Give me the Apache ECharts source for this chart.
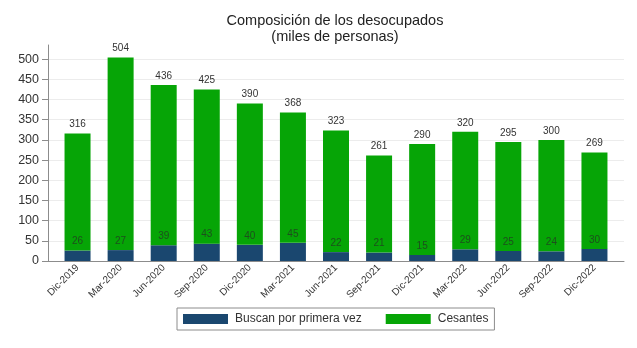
<!DOCTYPE html>
<html>
<head>
<meta charset="utf-8">
<script src="https://cdn.jsdelivr.net/npm/echarts@6/dist/echarts.min.js"></script>
<style>
  html, body { margin: 0; padding: 0; background: #fff; }
  #chart { width: 637px; height: 348px; }
</style>
</head>
<body>
<div id="chart"></div>
<script>
// Quarterly unemployed, thousands of people
const periods = ['Dic-2019', 'Mar-2020', 'Jun-2020', 'Sep-2020', 'Dic-2020', 'Mar-2021', 'Jun-2021',
                 'Sep-2021', 'Dic-2021', 'Mar-2022', 'Jun-2022', 'Sep-2022', 'Dic-2022'];
const totalDesocupados = [316, 504, 436, 425, 390, 368, 323, 261, 290, 320, 295, 300, 269];
const buscanPrimeraVez = [26, 27, 39, 43, 40, 45, 22, 21, 15, 29, 25, 24, 30];
// Cesantes are the remainder of each total
const cesantes = totalDesocupados.map((t, i) => t - buscanPrimeraVez[i]);
const yTicks = [0, 50, 100, 150, 200, 250, 300, 350, 400, 450, 500];

const Y_MAX = 535;
const FONT = '"Liberation Sans", Arial, sans-serif';
const NAVY = '#1a476f';
const GREEN = '#06a506';

const chart = echarts.init(document.getElementById('chart'), null, { renderer: 'canvas' });

chart.setOption({
  animation: false,
  backgroundColor: '#ffffff',
  textStyle: { fontFamily: FONT },
  graphic: [
    {
      type: 'text', x: 335, y: 21,
      style: { text: 'Composición de los desocupados', fill: '#222', font: '14.5px ' + FONT,
               align: 'center', verticalAlign: 'middle' }
    },
    {
      type: 'text', x: 335, y: 37,
      style: { text: '(miles de personas)', fill: '#222', font: '14.5px ' + FONT,
               align: 'center', verticalAlign: 'middle' }
    }
  ],
  grid: [
    // frame: y axis, gridlines and baseline
    { left: 48, right: 13, top: 45, bottom: 87, containLabel: false },
    // bars
    { left: 56, right: 21, top: 45, bottom: 87, containLabel: false }
  ],
  xAxis: [
    {
      gridIndex: 0, type: 'value', min: 0, max: 1,
      axisLine: { show: true, lineStyle: { color: '#8c8c8c', width: 1 } },
      axisTick: { show: false }, axisLabel: { show: false }, splitLine: { show: false }
    },
    {
      gridIndex: 1, type: 'category', data: periods,
      axisLine: { show: false }, axisTick: { show: false },
      axisLabel: { rotate: 45, fontSize: 10, color: '#333', margin: 5, interval: 0 }
    }
  ],
  yAxis: [
    {
      gridIndex: 0, type: 'value', min: 0, max: Y_MAX,
      axisLine: { show: true, lineStyle: { color: '#8c8c8c', width: 1 } },
      axisTick: { show: true, length: 6, customValues: yTicks, lineStyle: { color: '#8c8c8c', width: 1 } },
      axisLabel: { customValues: yTicks, fontSize: 12.5, color: '#333', margin: 9 },
      splitLine: { show: true, lineStyle: { color: '#ececec', width: 1 } }
    },
    {
      gridIndex: 1, type: 'value', min: 0, max: Y_MAX, show: false,
      splitLine: { show: false }
    }
  ],
  legend: {
    left: 177, top: 308,
    itemWidth: 45, itemHeight: 10, itemGap: 24,
    padding: [5, 6, 5, 6],
    borderColor: '#8c8c8c', borderWidth: 1,
    textStyle: { fontSize: 12, color: '#333', padding: [0, 0, 0, 2] },
    icon: 'rect',
    data: ['Buscan por primera vez', 'Cesantes']
  },
  series: [
    {
      name: 'Buscan por primera vez', type: 'bar', stack: 'des',
      xAxisIndex: 1, yAxisIndex: 1, barWidth: 26,
      data: buscanPrimeraVez,
      itemStyle: { color: NAVY },
      label: { show: true, position: 'top', distance: 4, fontSize: 10, color: '#1d4f1d' }
    },
    {
      name: 'Cesantes', type: 'bar', stack: 'des',
      xAxisIndex: 1, yAxisIndex: 1, barWidth: 26,
      data: cesantes,
      itemStyle: { color: GREEN },
      label: {
        show: true, position: 'top', distance: 4, fontSize: 10, color: '#333',
        formatter: p => String(totalDesocupados[p.dataIndex])
      }
    }
  ]
});
</script>
</body>
</html>
